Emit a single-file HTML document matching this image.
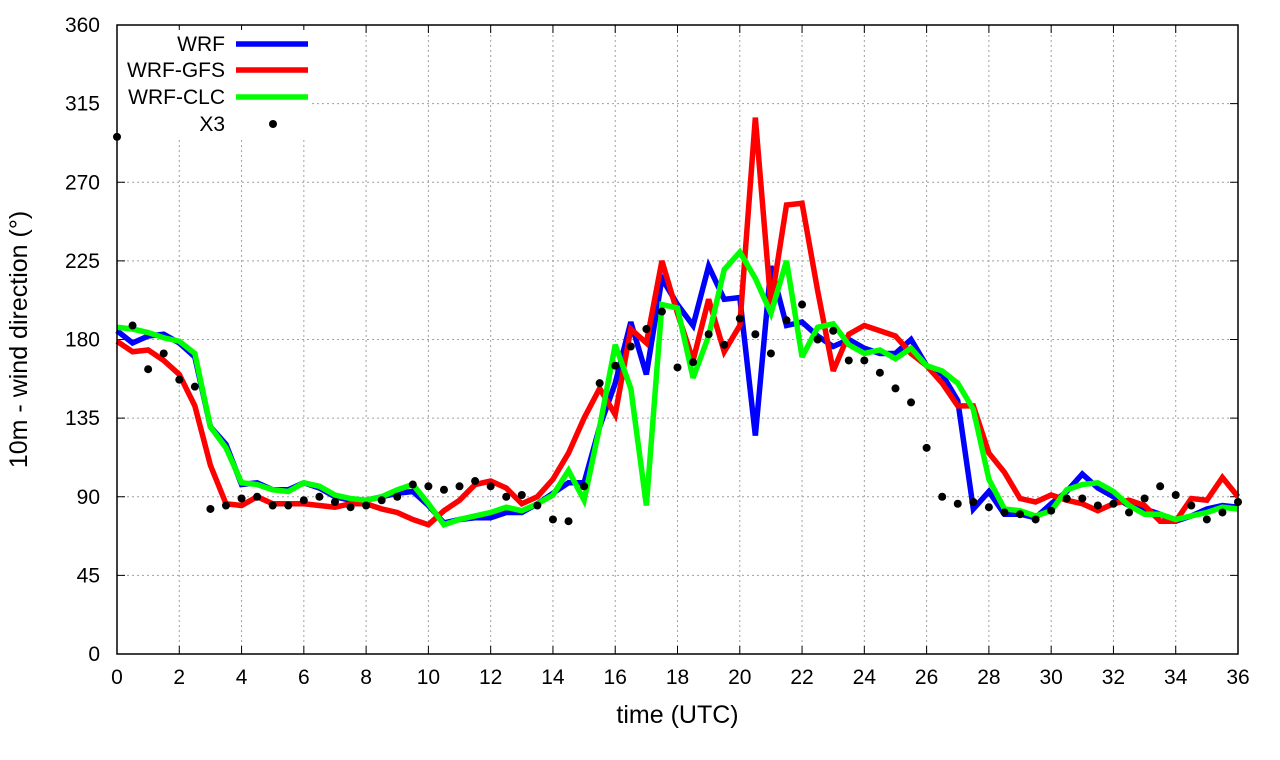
<!DOCTYPE html>
<html><head><meta charset="utf-8"><style>
body{margin:0;background:#fff;}
svg{display:block;font-family:"Liberation Sans",sans-serif;}
</style></head><body>
<svg id="chart" width="1280" height="760"></svg>
<script>
const hours = [];
for (let i = 0; i <= 72; i++) hours.push(i * 0.5);
const wrf = [185,178,182,183,178,170,130,120,97,98,94,94,98,95,90,88,88,90,92,93,85,75,77,78,78,81,81,86,92,98,98,130,155,190,160,215,200,188,222,203,204,125,222,188,190,182,176,180,175,172,172,180,165,160,145,83,93,80,80,78,86,93,103,95,90,85,83,80,76,79,83,85,84];
const wrfGfs = [179,173,174,168,160,142,108,86,85,90,86,86,86,85,84,86,86,83,81,77,74,82,88,97,99,95,86,90,100,115,135,152,137,186,178,225,195,168,203,173,188,307,200,257,258,208,162,183,188,185,182,172,165,155,142,142,115,104,89,87,91,88,86,82,86,88,85,76,76,89,88,101,90];
const wrfClc = [187,186,184,181,179,172,130,118,98,97,94,93,98,96,91,89,88,90,94,97,86,74,77,79,81,84,82,86,91,105,88,130,177,152,85,200,198,158,182,220,230,215,195,225,170,187,189,177,172,174,169,175,165,162,155,140,100,83,82,79,82,94,97,98,93,85,80,80,77,79,81,84,83];
const x3 = [296,188,163,172,157,153,83,85,89,90,85,85,88,90,87,84,85,88,90,97,96,94,96,99,96,90,91,85,77,76,96,155,165,176,186,196,164,167,183,177,192,183,172,191,200,180,185,168,168,161,152,144,118,90,86,87,84,81,80,77,82,89,89,85,86,81,89,96,91,85,77,81,87];
const xTicks = [0,2,4,6,8,10,12,14,16,18,20,22,24,26,28,30,32,34,36];
const yTicks = [0,45,90,135,180,225,270,315,360];

const L=117,R=1238,T=25,B=654;
const sx = h => L + (h/36)*(R-L);
const sy = v => B - (v/360)*(B-T);
const svg = document.getElementById('chart');
const NS='http://www.w3.org/2000/svg';
function mk(tag, attrs){const e=document.createElementNS(NS,tag);for(const k in attrs)e.setAttribute(k,attrs[k]);svg.appendChild(e);return e;}

xTicks.forEach(t=>{
  if(t>0&&t<36){const g=mk('line',{x1:sx(t),x2:sx(t),y1:T,y2:B,stroke:'#a0a0a0','stroke-dasharray':'2,3','stroke-width':1});
  
  }
  const a=mk('line',{x1:sx(t),x2:sx(t),y1:B,y2:B-8,stroke:'#000'});
  
  
  const b=mk('line',{x1:sx(t),x2:sx(t),y1:T,y2:T+8,stroke:'#000'});
  
  
  const tx=mk('text',{x:sx(t),y:B+30,'text-anchor':'middle','font-size':21});
  tx.textContent=t;
  
  
});
yTicks.forEach(t=>{
  if(t>0&&t<360){const g=mk('line',{x1:L,x2:R,y1:sy(t),y2:sy(t),stroke:'#a0a0a0','stroke-dasharray':'2,3','stroke-width':1});
  
  }
  const a=mk('line',{x1:L,x2:L+8,y1:sy(t),y2:sy(t),stroke:'#000'});
  
  
  const b=mk('line',{x1:R,x2:R-8,y1:sy(t),y2:sy(t),stroke:'#000'});
  
  
  const tx=mk('text',{x:L-17,y:sy(t)+7,'text-anchor':'end','font-size':21});
  tx.textContent=t;
  
  
});

const lb=mk('rect',{x:110,y:30,width:200,height:108,fill:'#fff'});



function series(vals,color,name){
  const p=mk('polyline',{points:vals.map((v,i)=>sx(hours[i])+','+sy(v)).join(' '),fill:'none',stroke:color,'stroke-width':5.5,'stroke-linejoin':'miter','stroke-miterlimit':3});
  
  
}
series(wrf,'#0000ff','wrf-line');
series(wrfGfs,'#ff0000','wrf-gfs-line');
series(wrfClc,'#00ff00','wrf-clc-line');
x3.forEach((v,i)=>{
  const c=mk('circle',{cx:sx(hours[i]),cy:sy(v),r:4,fill:'#000'});
  
  
});

const leg=[['WRF','#0000ff',44],['WRF-GFS','#ff0000',70],['WRF-CLC','#00ff00',97]];
leg.forEach(([n,c,y])=>{
  const t=mk('text',{x:225,y:y+7,'text-anchor':'end','font-size':21});
  t.textContent=n;
  
  
  const l=mk('line',{x1:236,x2:308,y1:y,y2:y,stroke:c,'stroke-width':5.5});
  
  
});
const t3=mk('text',{x:225,y:131,'text-anchor':'end','font-size':21});
t3.textContent='X3';


const d3=mk('circle',{cx:273,cy:124,r:4,fill:'#000'});



const fr=mk('rect',{x:L,y:T,width:R-L,height:B-T,fill:'none',stroke:'#000','stroke-width':1.5});



const xt=mk('text',{x:(L+R)/2,y:723,'text-anchor':'middle','font-size':25});
xt.textContent='time (UTC)';


const yt=mk('text',{x:0,y:0,'text-anchor':'middle','font-size':25,transform:'translate(27,'+((T+B)/2)+') rotate(-90)'});
yt.textContent='10m - wind direction (°)';


</script>
</body></html>
